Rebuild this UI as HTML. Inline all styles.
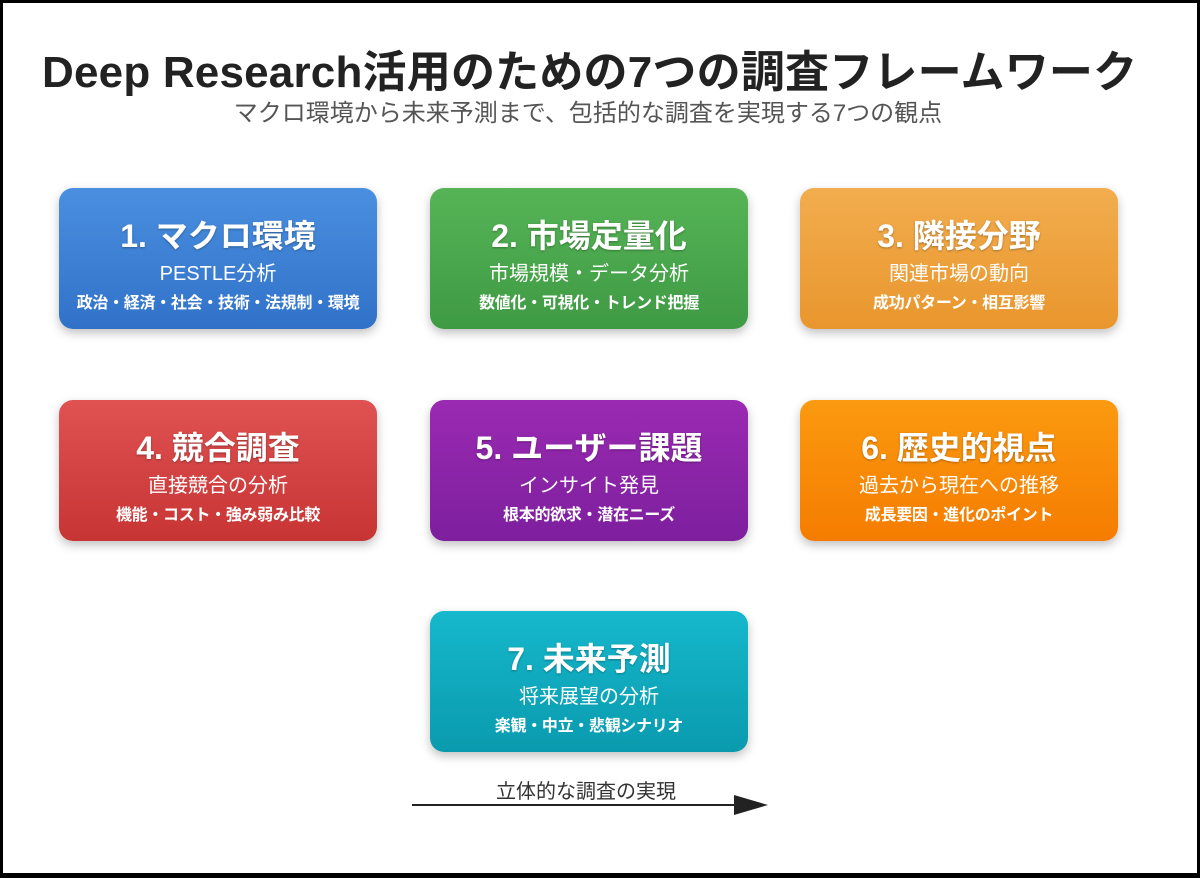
<!DOCTYPE html>
<html><head><meta charset="utf-8"><style>
body{margin:0;width:1200px;height:878px;background:#000;font-family:"Liberation Sans","Noto Sans CJK JP",sans-serif;}
.pg{position:absolute;left:3px;top:3px;width:1194px;height:870px;background:#fff;}
.t{position:absolute;left:42px;top:36px;font-size:44px;font-weight:bold;color:#222;white-space:nowrap;letter-spacing:0.2px}
.s{position:absolute;left:0;width:1176px;top:93px;font-size:24px;color:#555;text-align:center}
.b{position:absolute;width:318px;height:141px;border-radius:14px;color:#fff;text-align:center;box-shadow:0 4px 10px rgba(0,0,0,0.25)}
.b .h{display:block;font-size:32px;font-weight:bold;margin-top:30px;line-height:36px;text-shadow:0 1px 2px rgba(0,0,0,.3)}
.b .p{display:block;margin:8px 0 0;font-size:20px;line-height:24px}
.b .q{display:block;font-size:16px;line-height:20px;margin-top:8px;white-space:nowrap;font-weight:bold;letter-spacing:-0.3px}
</style></head><body><div class="pg"></div>
<div class="t">Deep Research活用のための7つの調査フレームワーク</div>
<div class="s">マクロ環境から未来予測まで、包括的な調査を実現する7つの観点</div>
<div class="b" style="left:59px;top:188px;background:linear-gradient(#4a8fe0,#3172c8)"><span class="h">1. マクロ環境</span><span class="p">PESTLE分析</span><span class="q">政治・経済・社会・技術・法規制・環境</span></div>
<div class="b" style="left:430px;top:188px;background:linear-gradient(#56b456,#3f9a44)"><span class="h">2. 市場定量化</span><span class="p">市場規模・データ分析</span><span class="q">数値化・可視化・トレンド把握</span></div>
<div class="b" style="left:800px;top:188px;background:linear-gradient(#f2ad4e,#e9962d)"><span class="h">3. 隣接分野</span><span class="p">関連市場の動向</span><span class="q">成功パターン・相互影響</span></div>
<div class="b" style="left:59px;top:400px;background:linear-gradient(#e05252,#c73434)"><span class="h">4. 競合調査</span><span class="p">直接競合の分析</span><span class="q">機能・コスト・強み弱み比較</span></div>
<div class="b" style="left:430px;top:400px;background:linear-gradient(#9a2ab2,#7d1f9e)"><span class="h">5. ユーザー課題</span><span class="p">インサイト発見</span><span class="q">根本的欲求・潜在ニーズ</span></div>
<div class="b" style="left:800px;top:400px;background:linear-gradient(#fb9a10,#f57c00)"><span class="h">6. 歴史的視点</span><span class="p">過去から現在への推移</span><span class="q">成長要因・進化のポイント</span></div>
<div class="b" style="left:430px;top:611px;background:linear-gradient(#16b8cc,#0a9aae)"><span class="h">7. 未来予測</span><span class="p">将来展望の分析</span><span class="q">楽観・中立・悲観シナリオ</span></div>
<div style="position:absolute;left:412px;width:356px;top:775px;text-align:center;font-size:20px;color:#333;padding-right:8px;box-sizing:border-box">立体的な調査の実現</div>
<svg style="position:absolute;left:0;top:0" width="1200" height="878"><line x1="412" y1="805" x2="740" y2="805" stroke="#222" stroke-width="2"/><polygon points="734,795 768,805 734,815" fill="#222"/></svg>
</body></html>
